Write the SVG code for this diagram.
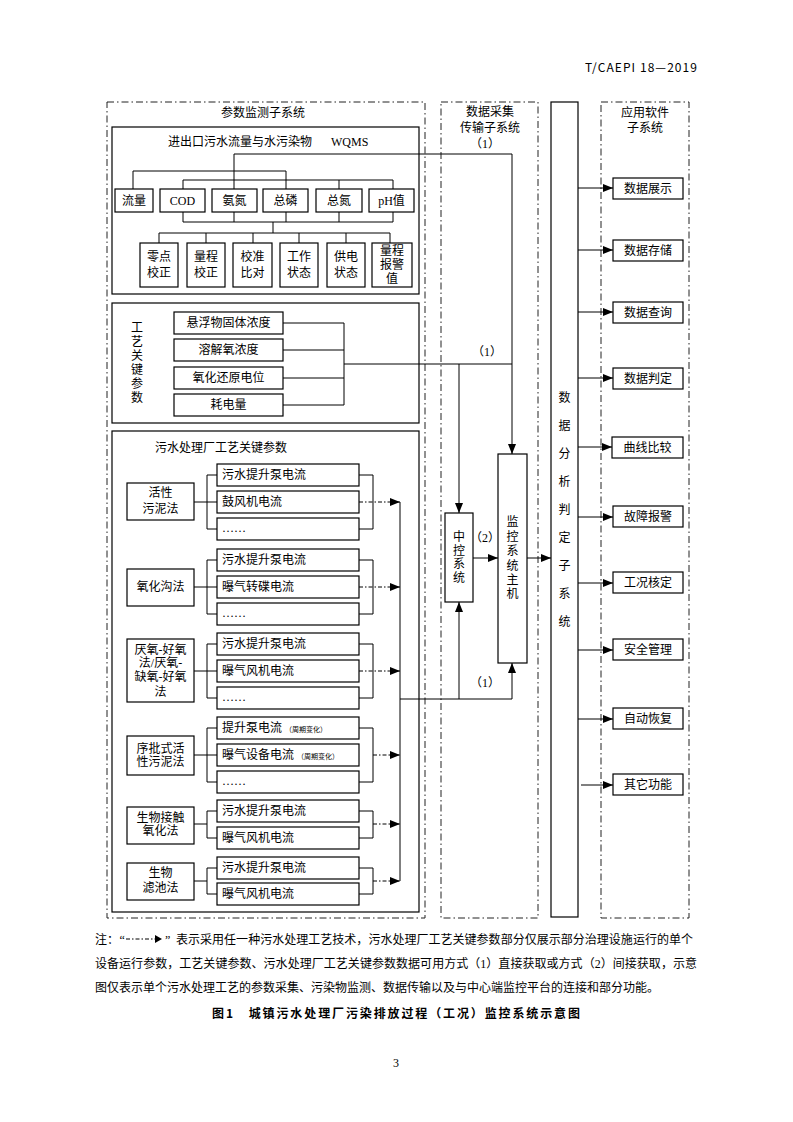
<svg xmlns="http://www.w3.org/2000/svg" width="793" height="1122" viewBox="0 0 793 1122">
<style>
.t{font-family:"Liberation Serif","Noto Sans CJK SC",serif;font-size:12px;fill:#000}
.c{text-anchor:middle}
.s{font-family:"Noto Sans CJK SC","Liberation Sans",sans-serif}
.box{fill:#fff;stroke:#000;stroke-width:1.2}
.ln{fill:none;stroke:#000;stroke-width:1}
.dd{fill:none;stroke:#222;stroke-width:1;stroke-dasharray:7 3 1.5 3}
.da{fill:none;stroke:#000;stroke-width:1;stroke-dasharray:4 2 1.5 2}
</style>
<defs>
<marker id="ah" viewBox="0 0 10 8" refX="10" refY="4" markerWidth="10" markerHeight="8" markerUnits="userSpaceOnUse" orient="auto"><path d="M0,0 L10,4 L0,8 z" fill="#000"/></marker>
</defs>
<rect width="793" height="1122" fill="#fff"/>

<text class="t s" x="697" y="72" text-anchor="end" font-size="12.5" textLength="112">T/CAEPI 18—2019</text>

<!-- subsystem frames -->
<g id="frame-param">
<rect class="dd" x="107" y="102" width="318" height="816"/>
<text class="t c" x="263" y="117">参数监测子系统</text>
</g>
<g id="frame-daq">
<rect class="dd" x="441" y="102" width="97" height="816"/>
<text class="t c" x="490" y="116">数据采集</text>
<text class="t c" x="490" y="132">传输子系统</text>
</g>
<g id="frame-app">
<rect class="dd" x="601" y="102" width="88" height="816"/>
<text class="t c" x="645" y="117">应用软件</text>
<text class="t c" x="645" y="132">子系统</text>
</g>

<!-- WQMS block -->
<g id="wqms">
<rect class="box" x="112" y="127" width="307" height="167"/>
<text class="t" x="168" y="146">进出口污水流量与水污染物</text>
<text class="t" x="331" y="146" font-size="10.5">WQMS</text>
</g>
<g id="n-liuliang"><rect class="box" x="115" y="189" width="38" height="23"/><text class="t c" x="134" y="205">流量</text></g>
<g id="n-cod"><rect class="box" x="160" y="189" width="45" height="23"/><text class="t c" x="182.5" y="205" font-size="11">COD</text></g>
<g id="n-andan"><rect class="box" x="212" y="189" width="45" height="23"/><text class="t c" x="234.5" y="205">氨氮</text></g>
<g id="n-zonglin"><rect class="box" x="263" y="189" width="45" height="23"/><text class="t c" x="285.5" y="205">总磷</text></g>
<g id="n-zongdan"><rect class="box" x="316" y="189" width="46" height="23"/><text class="t c" x="339" y="205">总氮</text></g>
<g id="n-ph"><rect class="box" x="369" y="189" width="45" height="23"/><text class="t c" x="391.5" y="205">pH值</text></g>

<g id="n-lingdian"><rect class="box" x="140" y="243" width="38" height="44"/><text class="t c" x="159" y="261">零点</text><text class="t c" x="159" y="277">校正</text></g>
<g id="n-liangcheng"><rect class="box" x="187" y="243" width="38" height="44"/><text class="t c" x="206" y="261">量程</text><text class="t c" x="206" y="277">校正</text></g>
<g id="n-jiaozhun"><rect class="box" x="233" y="243" width="39" height="44"/><text class="t c" x="252.5" y="261">校准</text><text class="t c" x="252.5" y="277">比对</text></g>
<g id="n-gongzuo"><rect class="box" x="280" y="243" width="38" height="44"/><text class="t c" x="299" y="261">工作</text><text class="t c" x="299" y="277">状态</text></g>
<g id="n-gongdian"><rect class="box" x="327" y="243" width="38" height="44"/><text class="t c" x="346" y="261">供电</text><text class="t c" x="346" y="277">状态</text></g>
<g id="n-baojing"><rect class="box" x="372" y="243" width="40" height="44"/><text class="t c" x="392" y="255">量程</text><text class="t c" x="392" y="269">报警</text><text class="t c" x="392" y="283">值</text></g>

<!-- process key parameters -->
<g id="gyjc">
<rect class="box" x="112" y="303" width="307" height="120"/>
<text class="t c" x="137" y="332">工</text>
<text class="t c" x="137" y="346">艺</text>
<text class="t c" x="137" y="360">关</text>
<text class="t c" x="137" y="374">键</text>
<text class="t c" x="137" y="388">参</text>
<text class="t c" x="137" y="402">数</text>
</g>
<g id="n-xuanfu"><rect class="box" x="174" y="312" width="109" height="22"/><text class="t c" x="228.5" y="327">悬浮物固体浓度</text></g>
<g id="n-rongjie"><rect class="box" x="174" y="339" width="109" height="22"/><text class="t c" x="228.5" y="354">溶解氧浓度</text></g>
<g id="n-yanghua"><rect class="box" x="174" y="367" width="109" height="22"/><text class="t c" x="228.5" y="382">氧化还原电位</text></g>
<g id="n-haodian"><rect class="box" x="174" y="394" width="109" height="22"/><text class="t c" x="228.5" y="409">耗电量</text></g>

<!-- WWTP process parameters -->
<g id="wwtp">
<rect class="box" x="112" y="431" width="307" height="481"/>
<text class="t" x="155" y="452">污水处理厂工艺关键参数</text>
</g>

<g id="g-huoxing">
<rect class="box" x="127" y="483" width="67" height="37"/>
<text class="t c" x="160.5" y="497">活性</text><text class="t c" x="160.5" y="513">污泥法</text>
<rect class="box" x="217" y="464" width="142" height="22"/><text class="t" x="222" y="479">污水提升泵电流</text>
<rect class="box" x="217" y="491" width="142" height="22"/><text class="t" x="222" y="506">鼓风机电流</text>
<rect class="box" x="217" y="518" width="142" height="22"/><text class="t" x="222" y="532">……</text>
</g>
<g id="g-yanghuagou">
<rect class="box" x="127" y="569" width="67" height="37"/>
<text class="t c" x="160.5" y="591">氧化沟法</text>
<rect class="box" x="217" y="549" width="142" height="22"/><text class="t" x="222" y="564">污水提升泵电流</text>
<rect class="box" x="217" y="576" width="142" height="22"/><text class="t" x="222" y="591">曝气转碟电流</text>
<rect class="box" x="217" y="603" width="142" height="22"/><text class="t" x="222" y="617">……</text>
</g>
<g id="g-yanyang">
<rect class="box" x="127" y="639" width="67" height="63"/>
<text class="t c" x="160.5" y="654">厌氧-好氧</text><text class="t c" x="160.5" y="667">法/厌氧-</text><text class="t c" x="160.5" y="681">缺氧-好氧</text><text class="t c" x="160.5" y="696">法</text>
<rect class="box" x="217" y="633" width="142" height="22"/><text class="t" x="222" y="648">污水提升泵电流</text>
<rect class="box" x="217" y="660" width="142" height="22"/><text class="t" x="222" y="675">曝气风机电流</text>
<rect class="box" x="217" y="687" width="142" height="22"/><text class="t" x="222" y="701">……</text>
</g>
<g id="g-xupi">
<rect class="box" x="127" y="736" width="67" height="39"/>
<text class="t c" x="160.5" y="753">序批式活</text><text class="t c" x="160.5" y="766">性污泥法</text>
<rect class="box" x="217" y="717" width="142" height="22"/><text class="t" x="222" y="732">提升泵电流<tspan font-size="7" dx="3">（周期变化）</tspan></text>
<rect class="box" x="217" y="744" width="142" height="22"/><text class="t" x="222" y="759">曝气设备电流<tspan font-size="7" dx="3">（周期变化）</tspan></text>
<rect class="box" x="217" y="771" width="142" height="22"/><text class="t" x="222" y="785">……</text>
</g>
<g id="g-jiechu">
<rect class="box" x="127" y="807" width="67" height="37"/>
<text class="t c" x="160.5" y="822">生物接触</text><text class="t c" x="160.5" y="835">氧化法</text>
<rect class="box" x="217" y="800" width="142" height="22"/><text class="t" x="222" y="815">污水提升泵电流</text>
<rect class="box" x="217" y="827" width="142" height="22"/><text class="t" x="222" y="842">曝气风机电流</text>
</g>
<g id="g-lvchi">
<rect class="box" x="127" y="863" width="67" height="37"/>
<text class="t c" x="160.5" y="877">生物</text><text class="t c" x="160.5" y="892">滤池法</text>
<rect class="box" x="217" y="857" width="142" height="22"/><text class="t" x="222" y="872">污水提升泵电流</text>
<rect class="box" x="217" y="883" width="142" height="22"/><text class="t" x="222" y="898">曝气风机电流</text>
</g>

<!-- central / monitoring host -->
<g id="n-zhongkong">
<rect class="box" x="445" y="513" width="28" height="89"/>
<text class="t c" x="459" y="541">中</text><text class="t c" x="459" y="555">控</text><text class="t c" x="459" y="568">系</text><text class="t c" x="459" y="582">统</text>
</g>
<g id="n-jiankong">
<rect class="box" x="498" y="454" width="29" height="209"/>
<text class="t c" x="512.5" y="526">监</text><text class="t c" x="512.5" y="541">控</text><text class="t c" x="512.5" y="555">系</text><text class="t c" x="512.5" y="570">统</text><text class="t c" x="512.5" y="584">主</text><text class="t c" x="512.5" y="598">机</text>
</g>
<g id="n-fenxi">
<rect class="box" x="551" y="102" width="27" height="815"/>
<text class="t c" x="564.5" y="402">数</text><text class="t c" x="564.5" y="430">据</text><text class="t c" x="564.5" y="458">分</text><text class="t c" x="564.5" y="486">析</text><text class="t c" x="564.5" y="514">判</text><text class="t c" x="564.5" y="542">定</text><text class="t c" x="564.5" y="570">子</text><text class="t c" x="564.5" y="598">系</text><text class="t c" x="564.5" y="626">统</text>
</g>

<!-- application functions -->
<g id="a1"><rect class="box" x="613" y="178" width="70" height="21"/><text class="t c" x="648" y="192.5">数据展示</text></g>
<g id="a2"><rect class="box" x="613" y="240" width="70" height="21"/><text class="t c" x="648" y="254.5">数据存储</text></g>
<g id="a3"><rect class="box" x="613" y="302" width="70" height="21"/><text class="t c" x="648" y="316.5">数据查询</text></g>
<g id="a4"><rect class="box" x="613" y="368" width="70" height="21"/><text class="t c" x="648" y="382.5">数据判定</text></g>
<g id="a5"><rect class="box" x="612" y="437" width="71" height="21"/><text class="t c" x="647.5" y="451.5">曲线比较</text></g>
<g id="a6"><rect class="box" x="613" y="506" width="70" height="21"/><text class="t c" x="648" y="520.5">故障报警</text></g>
<g id="a7"><rect class="box" x="613" y="572" width="70" height="21"/><text class="t c" x="648" y="586.5">工况核定</text></g>
<g id="a8"><rect class="box" x="613" y="639" width="70" height="21"/><text class="t c" x="648" y="653.5">安全管理</text></g>
<g id="a9"><rect class="box" x="613" y="708" width="70" height="21"/><text class="t c" x="648" y="722.5">自动恢复</text></g>
<g id="a10"><rect class="box" x="613" y="774" width="70" height="21"/><text class="t c" x="648" y="788.5">其它功能</text></g>

<!-- connectors -->
<g id="connectors">
<path class="ln" d="M234,189 V154 H512 V454" marker-end="url(#ah)"/>
<path class="ln" d="M133,189 V171 H286 V189"/>
<path class="ln" d="M183,189 V180 H393 V189 M339,180 V189"/>
<path class="ln" d="M183,212 V222 H393 V212 M234,212 V222 M286,212 V222 M339,212 V222"/>
<path class="ln" d="M273,222 V233 M159,243 V233 H390 V243 M206,233 V243 M253,233 V243 M299,233 V243 M346,233 V243"/>

<path class="ln" d="M283,323 H344 M283,350 H344 M283,378 H344 M283,405 H344 M344,323 V405 M344,364 H512"/>
<path class="ln" d="M459,364 V513" marker-end="url(#ah)"/>

<!-- brackets -->
<path class="ln" d="M194,502 H207 M217,475 H207 V529 H217 M207,502 H217 M359,475 H373 V529 H359"/>
<path class="ln" d="M194,587 H207 M217,560 H207 V614 H217 M207,587 H217 M359,560 H373 V614 H359"/>
<path class="ln" d="M194,671 H207 M217,644 H207 V698 H217 M207,671 H217 M359,644 H373 V698 H359"/>
<path class="ln" d="M194,755 H207 M217,728 H207 V782 H217 M207,755 H217 M359,728 H373 V782 H359"/>
<path class="ln" d="M194,824 H207 M217,811 H207 V838 H217 M359,811 H373 V838 H359"/>
<path class="ln" d="M194,881 H207 M217,868 H207 V894 H217 M359,868 H373 V894 H359"/>
<path class="da" d="M359,502 H400" marker-end="url(#ah)"/>
<path class="da" d="M359,587 H400" marker-end="url(#ah)"/>
<path class="da" d="M359,671 H400" marker-end="url(#ah)"/>
<path class="da" d="M373,755 H400" marker-end="url(#ah)"/>
<path class="da" d="M373,824 H400" marker-end="url(#ah)"/>
<path class="da" d="M373,881 H400" marker-end="url(#ah)"/>
<path class="ln" d="M400,502 V881"/>
<path class="ln" d="M400,699 H512 V663" marker-end="url(#ah)"/>
<path class="ln" d="M459,699 V602" marker-end="url(#ah)"/>
<path class="ln" d="M473,558 H498" marker-end="url(#ah)"/>
<path class="ln" d="M527,558 H551" marker-end="url(#ah)"/>

<path class="ln" d="M578,188 H613" marker-end="url(#ah)"/>
<path class="ln" d="M578,250 H613" marker-end="url(#ah)"/>
<path class="ln" d="M578,312 H613" marker-end="url(#ah)"/>
<path class="ln" d="M578,378 H613" marker-end="url(#ah)"/>
<path class="ln" d="M578,447 H612" marker-end="url(#ah)"/>
<path class="ln" d="M578,517 H613" marker-end="url(#ah)"/>
<path class="ln" d="M578,583 H613" marker-end="url(#ah)"/>
<path class="ln" d="M578,650 H613" marker-end="url(#ah)"/>
<path class="ln" d="M578,719 H613" marker-end="url(#ah)"/>
<path class="ln" d="M581,785 H613" marker-end="url(#ah)"/>

<text class="t c" x="485" y="148" font-size="11">（1）</text>
<text class="t c" x="487" y="356" font-size="11">（1）</text>
<text class="t c" x="485" y="542" font-size="11">（2）</text>
<text class="t c" x="485" y="687" font-size="11">（1）</text>
</g>

<!-- note -->
<g id="note">
<text class="t" x="95" y="944">注：</text>
<text class="t" x="119.5" y="944">“</text>
<path class="da" d="M126,939 H155"/>
<path d="M155,935 L162,939 L155,943 z" fill="#000"/>
<text class="t" x="165" y="944">”</text>
<text class="t" x="176" y="944" textLength="517" lengthAdjust="spacing">表示采用任一种污水处理工艺技术，污水处理厂工艺关键参数部分仅展示部分治理设施运行的单个</text>
<text class="t" x="95" y="968" textLength="602" lengthAdjust="spacing">设备运行参数，工艺关键参数、污水处理厂工艺关键参数数据可用方式（1）直接获取或方式（2）间接获取，示意</text>
<text class="t" x="95" y="992">图仅表示单个污水处理工艺的参数采集、污染物监测、数据传输以及与中心端监控平台的连接和部分功能。</text>
<text class="t s" x="212" y="1018" font-size="13.5" font-weight="bold" textLength="368" lengthAdjust="spacing">图1　城镇污水处理厂污染排放过程（工况）监控系统示意图</text>
</g>
<text class="t c" x="396" y="1067" font-size="11">3</text>
</svg>
